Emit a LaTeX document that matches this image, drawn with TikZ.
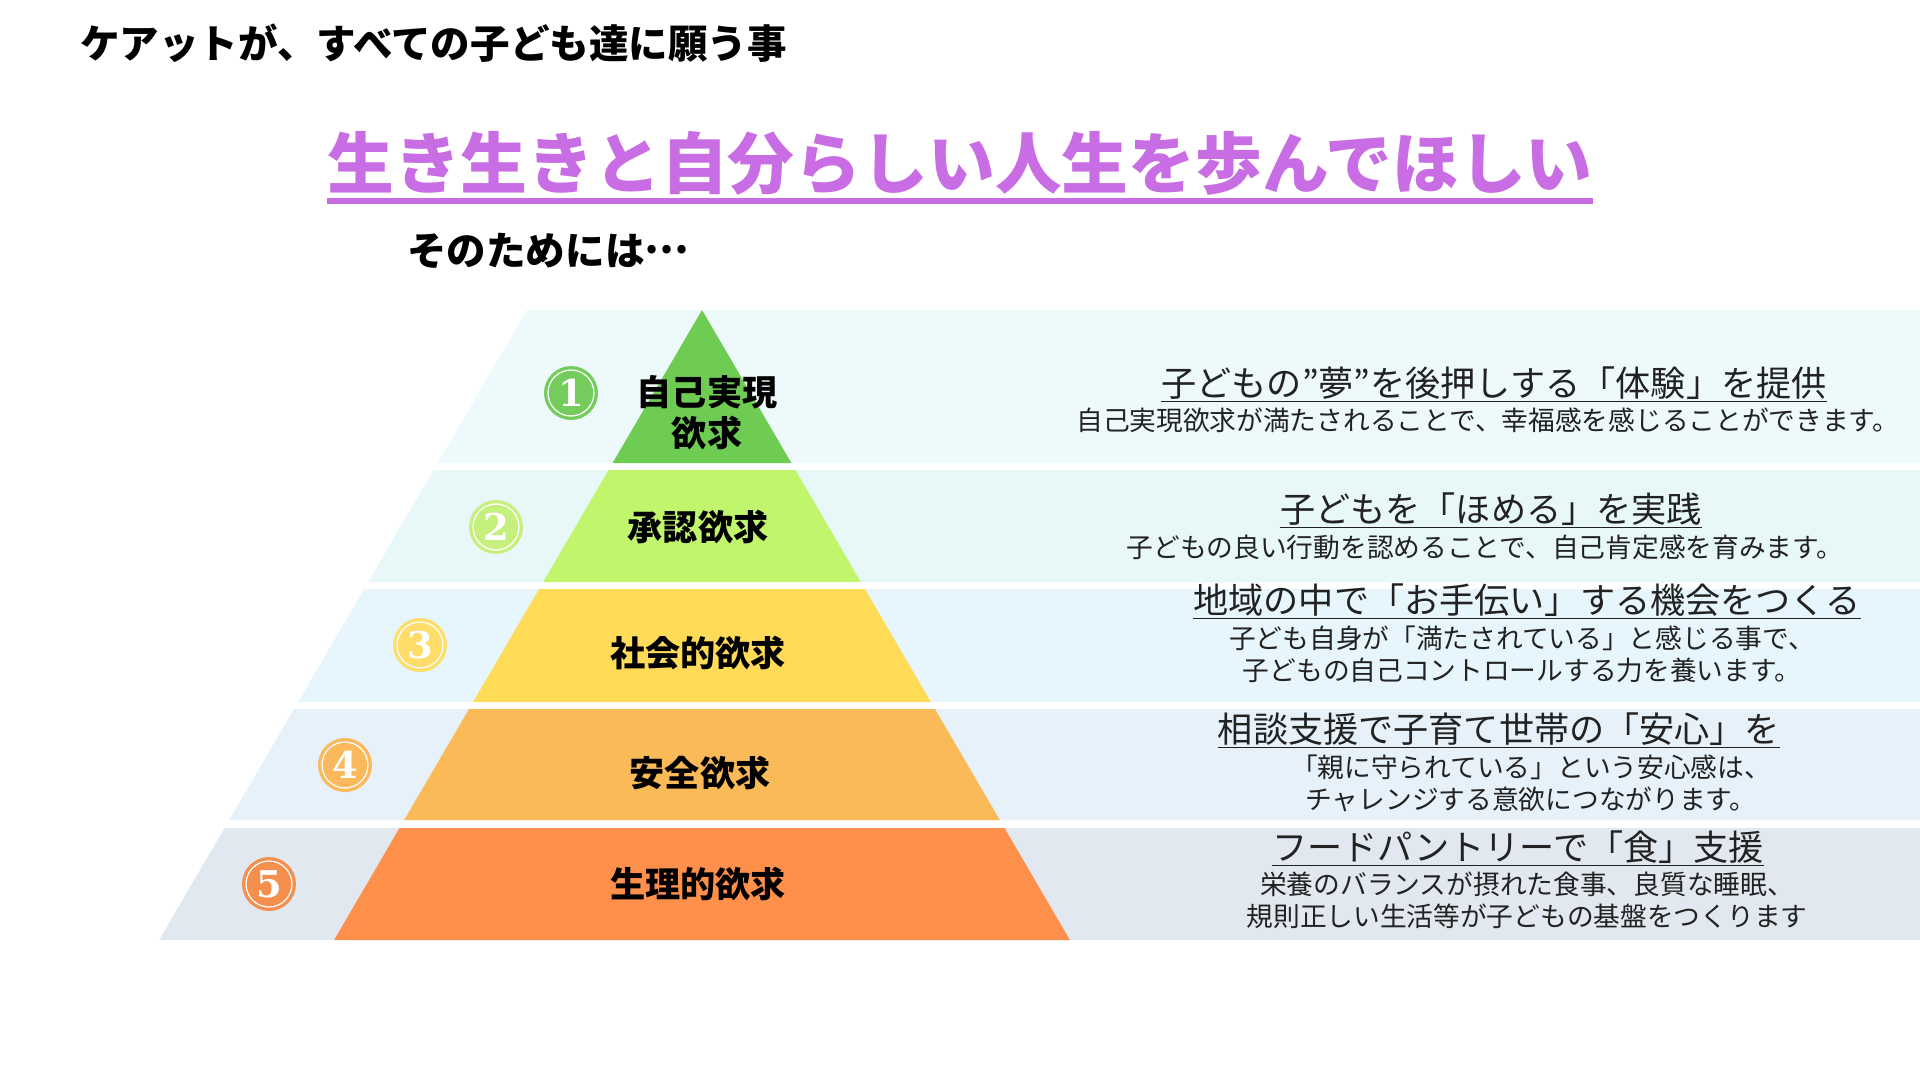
\documentclass[tikz,border=0pt]{standalone}
\usepackage{fontspec}
\setmainfont{Noto Sans CJK JP}
\newfontfamily\numfont{DejaVu Serif}
\usetikzlibrary{positioning}

\definecolor{wish}{HTML}{C86DE4}
\definecolor{lay1}{HTML}{6ECC52}
\definecolor{lay2}{HTML}{C1F66C}
\definecolor{lay3}{HTML}{FFDB57}
\definecolor{lay4}{HTML}{FBBA58}
\definecolor{lay5}{HTML}{FF904B}
\definecolor{bg1}{HTML}{EEF9FC}
\definecolor{bg2}{HTML}{E8F7F8}
\definecolor{bg3}{HTML}{E6F6FC}
\definecolor{bg4}{HTML}{E6F1F9}
\definecolor{bg5}{HTML}{E2E8F0}
\definecolor{num1}{HTML}{73CC5C}
\definecolor{num2}{HTML}{C6F07D}
\definecolor{num3}{HTML}{FFDD6A}
\definecolor{num4}{HTML}{FBB85C}
\definecolor{num5}{HTML}{F48F4E}
\definecolor{ink}{HTML}{222222}

\begin{document}
\begin{tikzpicture}[x=0.02cm, y=-0.02cm,
  ttl/.style={font=\fontsize{22.5pt}{27pt}\selectfont\bfseries, inner sep=0pt},
  wishtxt/.style={text=wish, font=\fontsize{38pt}{44pt}\selectfont\bfseries, inner sep=0pt},
  lvl/.style={font=\fontsize{20pt}{23.3pt}\selectfont\bfseries, align=center, inner sep=0pt},
  numdisc/.style={circle, minimum size=1.08cm, inner sep=0pt, text=white,
                  font=\numfont\bfseries\fontsize{21pt}{21pt}\selectfont,
                  path picture={\draw[white, line width=0.7pt]
                    (path picture bounding box.center) circle[radius=0.46cm];}},
  headtxt/.style={font=\fontsize{20pt}{24pt}\selectfont, text=ink, inner sep=0pt},
  subtxt/.style={font=\fontsize{15.2pt}{18.1pt}\selectfont, text=ink, align=center, inner sep=0pt},
  uline/.style={ink, line width=1.1pt},
]
\useasboundingbox (0,0) rectangle (1920,1080);

% bands behind the pyramid
\fill[bg1] (527,310) -- (1920,310) -- (1920,463) -- (437.6,463) -- cycle;
\fill[bg2] (433.6,470) -- (1920,470) -- (1920,582) -- (368.2,582) -- cycle;
\fill[bg3] (364.1,589) -- (1920,589) -- (1920,702) -- (298.1,702) -- cycle;
\fill[bg4] (294,709) -- (1920,709) -- (1920,820) -- (229.2,820) -- cycle;
\fill[bg5] (224.5,828) -- (1920,828) -- (1920,940) -- (159.1,940) -- cycle;

% the pyramid
\fill[lay1] (702,310) -- (791.4,463) -- (612.6,463) -- cycle;
\fill[lay2] (608.6,470) -- (795.4,470) -- (860.8,582) -- (543.2,582) -- cycle;
\fill[lay3] (539.1,589) -- (864.9,589) -- (930.9,702) -- (473.1,702) -- cycle;
\fill[lay4] (469,709) -- (935,709) -- (999.8,820) -- (404.2,820) -- cycle;
\fill[lay5] (399.5,828) -- (1004.5,828) -- (1069.9,940) -- (334.1,940) -- cycle;

% titles
\node[ttl, anchor=west] (title) at (80,43) {ケアットが、すべての子ども達に願う事};
\node[wishtxt] (wish) at (960,163) {生き生きと自分らしい人生を歩んでほしい};
\draw[wish, line width=3.4pt] ([yshift=-3pt]wish.south west) -- ([yshift=-3pt]wish.south east);
\node[ttl, anchor=west] (sonota) at (407,251) {そのためには\raisebox{0.3em}{…}};

% levels
\node[lvl] (l1) at (707,413) {自己実現\\欲求};
\node[lvl] (l2) at (698,527) {承認欲求};
\node[lvl] (l3) at (698,653) {社会的欲求};
\node[lvl] (l4) at (700,773) {安全欲求};
\node[lvl] (l5) at (698,884) {生理的欲求};

\node[numdisc, fill=num1] (n1) at (571,393) {1};
\node[numdisc, fill=num2] (n2) at (496,527) {2};
\node[numdisc, fill=num3] (n3) at (420,645) {3};
\node[numdisc, fill=num4] (n4) at (345,765) {4};
\node[numdisc, fill=num5] (n5) at (269,884) {5};

% what we do at each level
\node[headtxt] (h1) at (1494,383) {子どもの”夢”を後押しする「体験」を提供};
\node[subtxt] (s1) at (1488,420) {自己実現欲求が満たされることで、幸福感を感じることができます。};
\node[headtxt] (h2) at (1491,509) {子どもを「ほめる」を実践};
\node[subtxt] (s2) at (1485,547) {子どもの良い行動を認めることで、自己肯定感を育みます。};
\node[headtxt] (h3) at (1527,600) {地域の中で「お手伝い」する機会をつくる};
\node[subtxt] (s3) at (1522,654) {子ども自身が「満たされている」と感じる事で、\\子どもの自己コントロールする力を養います。};
\node[headtxt] (h4) at (1499,729) {相談支援で子育て世帯の「安心」を};
\node[subtxt] (s4) at (1531,783) {「親に守られている」という安心感は、\\チャレンジする意欲につながります。};
\node[headtxt] (h5) at (1518,847) {フードパントリーで「食」支援};
\node[subtxt] (s5) at (1527,900) {栄養のバランスが摂れた食事、良質な睡眠、\\規則正しい生活等が子どもの基盤をつくります};

\draw[uline] ([yshift=-1pt]h1.south west) -- ([yshift=-1pt]h1.south east);
\draw[uline] ([yshift=-1pt]h2.south west) -- ([yshift=-1pt]h2.south east);
\draw[uline] ([yshift=-1pt]h3.south west) -- ([yshift=-1pt]h3.south east);
\draw[uline] ([yshift=-1pt]h4.south west) -- ([yshift=-1pt]h4.south east);
\draw[uline] ([yshift=-1pt]h5.south west) -- ([yshift=-1pt]h5.south east);
\end{tikzpicture}
\end{document}
